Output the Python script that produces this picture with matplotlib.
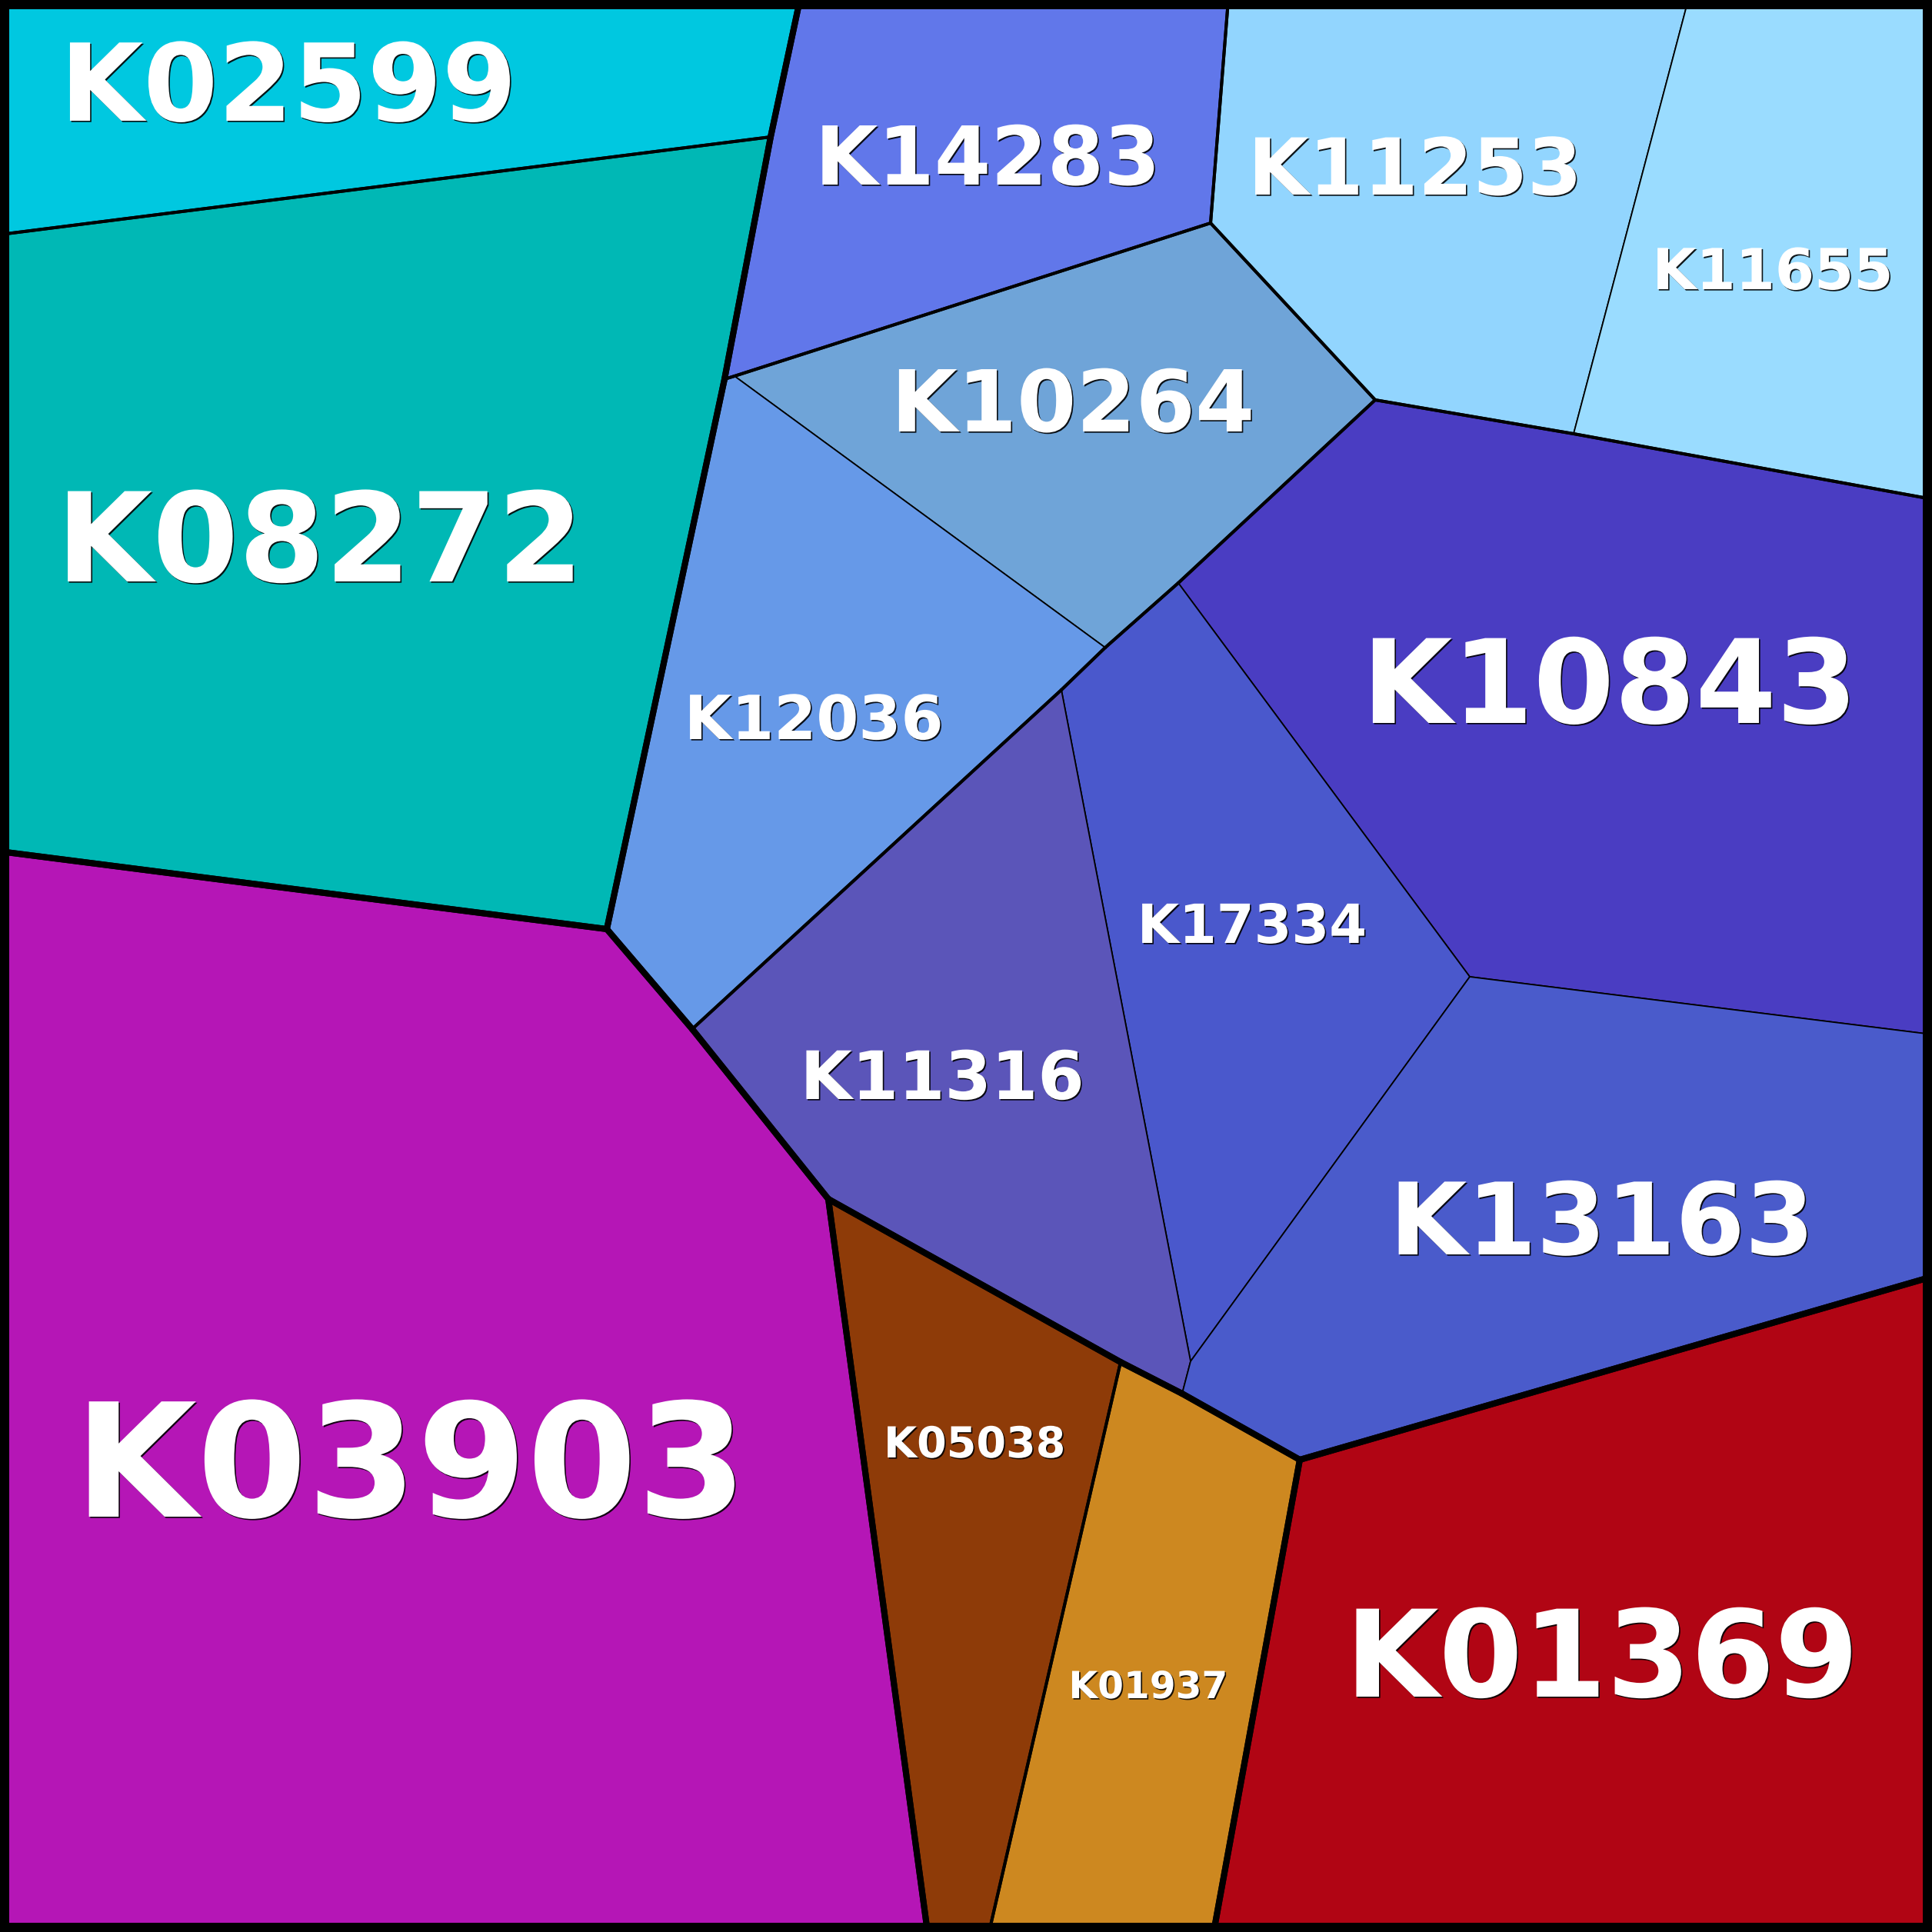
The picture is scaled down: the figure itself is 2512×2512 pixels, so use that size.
import matplotlib
matplotlib.use("Agg")
import matplotlib.pyplot as plt
import matplotlib.patheffects as pe
from matplotlib.patches import Polygon, Rectangle
from matplotlib.collections import LineCollection
from collections import Counter

# cell data
names = ['K02599', 'K08272', 'K14283', 'K11253', 'K11655', 'K10264', 'K12036',
         'K10843', 'K17334', 'K11316', 'K13163', 'K03903', 'K05038', 'K01937', 'K01369']
colors = ['#00c8e0', '#00b8b5', '#6177ea', '#92d5fe', '#9adcff', '#6fa4d8', '#6699e8',
          '#4a3dc2', '#4a58cc', '#5b55b9', '#4a5bcb', '#b516b6', '#8e3b08', '#cd8820', '#b10514']
top_group = ['A', 'A', 'B', 'B', 'B', 'B', 'B', 'B', 'B', 'B', 'B', 'C', 'D', 'D', 'E']
sub_group = ['A1', 'A2', 'B1', 'B2', 'B2', 'B3', 'B3', 'B4', 'B4', 'B4', 'B4', 'C1', 'D1', 'D2', 'E1']

# voronoi layout (pixel space of the 2512 canvas)
pts = {
    'TL': (0, 0), 'TR': (2512, 0), 'BR': (2512, 2512), 'BL': (0, 2512),
    'A': (1040, 0), 'B': (1002, 178), 'C': (0, 305), 'D': (942, 493), 'D2': (955, 489),
    'E': (1597, 0), 'F': (1574, 290), 'G': (1788, 520), 'H': (2195, 0), 'I': (2046, 564),
    'J': (2512, 649), 'K': (1437, 842), 'L': (1532, 758), 'M': (1380, 897), 'N': (900, 1338),
    'O': (789, 1208), 'P': (0, 1107), 'Q': (1911, 1270), 'R': (2512, 1345), 'S': (1548, 1770),
    'T': (1537, 1812), 'U': (1077, 1559), 'V': (1457, 1771), 'W': (1690, 1898),
    'X': (2512, 1660), 'Y': (1206, 2512), 'Z': (1286, 2512), 'AA': (1578, 2512),
}
cells = {
    'K02599': ['TL', 'A', 'B', 'C'],
    'K08272': ['C', 'B', 'D', 'O', 'P'],
    'K14283': ['A', 'E', 'F', 'D2', 'D', 'B'],
    'K11253': ['E', 'H', 'I', 'G', 'F'],
    'K11655': ['H', 'TR', 'J', 'I'],
    'K10264': ['F', 'G', 'L', 'K', 'D2'],
    'K12036': ['D', 'D2', 'K', 'M', 'N', 'O'],
    'K10843': ['G', 'I', 'J', 'R', 'Q', 'L'],
    'K17334': ['L', 'Q', 'S', 'M', 'K'],
    'K11316': ['M', 'S', 'T', 'V', 'U', 'N'],
    'K13163': ['Q', 'R', 'X', 'W', 'T', 'S'],
    'K03903': ['P', 'O', 'N', 'U', 'Y', 'BL'],
    'K05038': ['U', 'V', 'Z', 'Y'],
    'K01937': ['V', 'T', 'W', 'AA', 'Z'],
    'K01369': ['W', 'X', 'BR', 'AA'],
}
labels = {  # x centre, baseline, font size
    'K02599': (375, 157, 100.5), 'K08272': (416, 756, 116), 'K14283': (1284, 240, 76),
    'K11253': (1840, 253, 73.5), 'K11655': (2305, 376, 53), 'K10264': (1395, 561, 80),
    'K12036': (1058, 961, 57), 'K10843': (2093, 940, 109), 'K17334': (1628, 1226, 50.5),
    'K11316': (1225, 1429, 62.5), 'K13163': (2083, 1631, 93.5), 'K03903': (534, 1972, 148),
    'K05038': (1267, 1895, 40), 'K01937': (1493, 2208, 35), 'K01369': (2083, 2206, 113),
}

PX = 72 / 100  # points per pixel at dpi 100

fig = plt.figure(figsize=(25.12, 25.12), dpi=100, facecolor='white')
ax = fig.add_axes([0, 0, 1, 1])
ax.set_xlim(0, 2512)
ax.set_ylim(2512, 0)
ax.axis('off')

for name, col in zip(names, colors):
    poly = Polygon([pts[v] for v in cells[name]], closed=True, facecolor=col,
                   edgecolor='black', linewidth=1.8 * PX, joinstyle='round')
    ax.add_patch(poly)


def group_outline(groups):
    # edges used only once inside a group form that group's outline
    segs = []
    for g in sorted(set(groups)):
        cnt = Counter()
        for name, gg in zip(names, groups):
            if gg != g:
                continue
            vs = cells[name]
            for a, b in zip(vs, vs[1:] + vs[:1]):
                cnt[frozenset((a, b))] += 1
        for e, c in cnt.items():
            if c == 1:
                a, b = tuple(e)
                segs.append([pts[a], pts[b]])
    return segs


ax.add_collection(LineCollection(group_outline(sub_group), colors='black',
                                 linewidths=4 * PX, capstyle='round', joinstyle='round'))
ax.add_collection(LineCollection(group_outline(top_group), colors='black',
                                 linewidths=8 * PX, capstyle='round', joinstyle='round'))

ax.add_patch(Rectangle((6, 6), 2500, 2500, fill=False, edgecolor='black',
                       linewidth=12 * PX, joinstyle='round'))

for name in names:
    x, y, fs = labels[name]
    ax.text(x, y, name, ha='center', va='baseline', fontsize=fs, fontweight='bold',
            color='white', family='DejaVu Sans',
            path_effects=[pe.withSimplePatchShadow(offset=(1.2, -1.2), shadow_rgbFace='black', alpha=0.9)])

fig.savefig('out.png', dpi=100, facecolor='white')
